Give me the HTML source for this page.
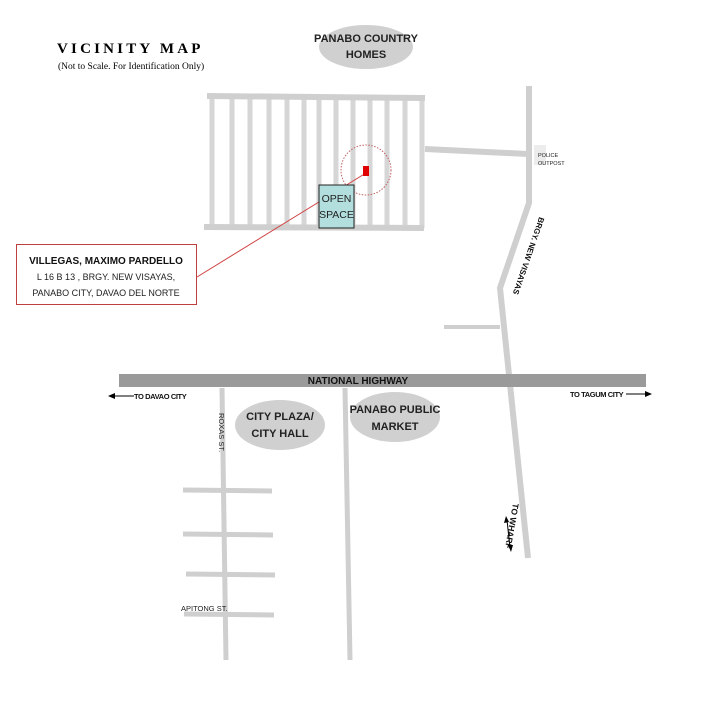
<!DOCTYPE html>
<html><head><meta charset="utf-8"><style>
html,body{margin:0;padding:0;background:#fff;width:720px;height:720px;overflow:hidden}
svg{display:block}
</style></head><body>
<svg width="720" height="720" viewBox="0 0 720 720" xmlns="http://www.w3.org/2000/svg" font-family="Liberation Sans, sans-serif">
<rect width="720" height="720" fill="#fff"/>
<!-- title -->
<text x="57" y="53" font-family="Liberation Serif, serif" font-weight="bold" font-size="15" letter-spacing="3.2">VICINITY MAP</text>
<text x="58" y="69" font-family="Liberation Serif, serif" font-size="9.5">(Not to Scale. For Identification Only)</text>
<!-- Panabo country homes -->
<ellipse cx="366" cy="47" rx="47" ry="22" fill="#d0d0d0"/>
<text x="366" y="42" font-size="11" font-weight="bold" text-anchor="middle" fill="#222">PANABO COUNTRY</text>
<text x="366" y="58" font-size="11" font-weight="bold" text-anchor="middle" fill="#222">HOMES</text>
<!-- subdivision -->
<g stroke="#d6d6d6" stroke-width="5">
<line x1="212" y1="96" x2="212" y2="228"/><line x1="232" y1="96" x2="232" y2="228"/>
<line x1="250" y1="96" x2="250" y2="228"/><line x1="269" y1="96" x2="269" y2="228"/>
<line x1="287" y1="96" x2="287" y2="228"/><line x1="304" y1="96" x2="304" y2="228"/>
<line x1="319" y1="96" x2="319" y2="228"/><line x1="336" y1="96" x2="336" y2="228"/>
<line x1="353" y1="96" x2="353" y2="228"/><line x1="370" y1="96" x2="370" y2="228"/>
<line x1="387" y1="96" x2="387" y2="228"/><line x1="405" y1="96" x2="405" y2="228"/>
<line x1="422" y1="96" x2="422" y2="228"/>
</g>
<g stroke="#cfcfcf" stroke-width="6" fill="none">
<line x1="207" y1="96" x2="425" y2="98"/>
<line x1="204" y1="227" x2="424" y2="228"/>
<line x1="425" y1="149" x2="528" y2="154"/>
<polyline points="529,86 529,203 500,288 528,558"/>
<line x1="444" y1="327" x2="500" y2="327" stroke-width="4"/>
</g>
<rect x="534" y="145" width="12" height="20" fill="#ececec"/>
<text x="538" y="157" font-size="5.5" fill="#222">POLICE</text>
<text x="538" y="165" font-size="5.5" fill="#222">OUTPOST</text>
<text transform="translate(526,255) rotate(109)" font-size="8" font-weight="bold" text-anchor="middle" fill="#111">BRGY. NEW VISAYAS</text>
<!-- marker -->
<circle cx="366" cy="170" r="25" fill="none" stroke="#c06060" stroke-width="1" stroke-dasharray="1.5,1.5"/>
<line x1="366" y1="173" x2="197" y2="277" stroke="#d04040" stroke-width="1"/>
<rect x="363" y="166" width="6" height="10" fill="#e00000"/>
<rect x="319" y="185" width="35" height="43" fill="#b3dede" stroke="#222" stroke-width="1"/>
<text x="336.5" y="202" font-size="10.5" text-anchor="middle" fill="#222">OPEN</text>
<text x="336.5" y="218" font-size="10.5" text-anchor="middle" fill="#222">SPACE</text>
<!-- owner box -->
<rect x="16.5" y="244.5" width="180" height="60" fill="#fff" stroke="#c04040" stroke-width="1"/>
<text x="106" y="264" font-size="10" font-weight="bold" text-anchor="middle" fill="#111">VILLEGAS, MAXIMO PARDELLO</text>
<text x="106" y="280" font-size="9" text-anchor="middle" fill="#222">L 16 B 13 ,  BRGY. NEW VISAYAS,</text>
<text x="106" y="296" font-size="9" text-anchor="middle" fill="#222">PANABO CITY, DAVAO DEL NORTE</text>
<!-- highway -->
<rect x="119" y="374" width="527" height="13" fill="#9a9a9a"/>
<text x="358" y="384" font-size="10" font-weight="bold" text-anchor="middle" fill="#111">NATIONAL HIGHWAY</text>
<line x1="112" y1="396" x2="134" y2="396" stroke="#000" stroke-width="1"/>
<polygon points="108,396 115,393 115,399" fill="#000"/>
<text x="134" y="399" font-size="7.5" font-weight="bold" fill="#111" letter-spacing="-0.4">TO DAVAO CITY</text>
<text x="570" y="397" font-size="7.5" font-weight="bold" fill="#111" letter-spacing="-0.4">TO TAGUM CITY</text>
<line x1="626" y1="394" x2="648" y2="394" stroke="#000" stroke-width="1"/>
<polygon points="652,394 645,391 645,397" fill="#000"/>
<!-- lower roads -->
<g stroke="#cfcfcf" stroke-width="5" fill="none">
<line x1="222" y1="388" x2="226" y2="660"/>
<line x1="345" y1="388" x2="350" y2="660"/>
<line x1="183" y1="490" x2="272" y2="491"/>
<line x1="183" y1="534" x2="273" y2="535"/>
<line x1="186" y1="574" x2="275" y2="575"/>
<line x1="184" y1="614" x2="274" y2="615"/>
</g>
<text transform="translate(219,413) rotate(90)" font-size="7.5" fill="#222">ROXAS ST.</text>
<text x="181" y="611" font-size="7.5" fill="#222">APITONG ST.</text>
<ellipse cx="280" cy="425" rx="45" ry="25" fill="#d0d0d0"/>
<text x="280" y="420" font-size="11" font-weight="bold" text-anchor="middle" fill="#222">CITY PLAZA/</text>
<text x="280" y="437" font-size="11" font-weight="bold" text-anchor="middle" fill="#222">CITY HALL</text>
<ellipse cx="395" cy="417" rx="45" ry="25" fill="#d0d0d0"/>
<text x="395" y="413" font-size="11" font-weight="bold" text-anchor="middle" fill="#222">PANABO PUBLIC</text>
<text x="395" y="430" font-size="11" font-weight="bold" text-anchor="middle" fill="#222">MARKET</text>
<!-- to wharf -->
<text transform="translate(513,503) rotate(100)" font-size="8.5" font-weight="bold" fill="#111">TO WHARF</text>
<line x1="507" y1="520" x2="510" y2="548" stroke="#000" stroke-width="1"/>
<polygon points="506,516 504,523 509,522" fill="#000"/>
<polygon points="511,552 508,545 513,545" fill="#000"/>
</svg>
</body></html>
